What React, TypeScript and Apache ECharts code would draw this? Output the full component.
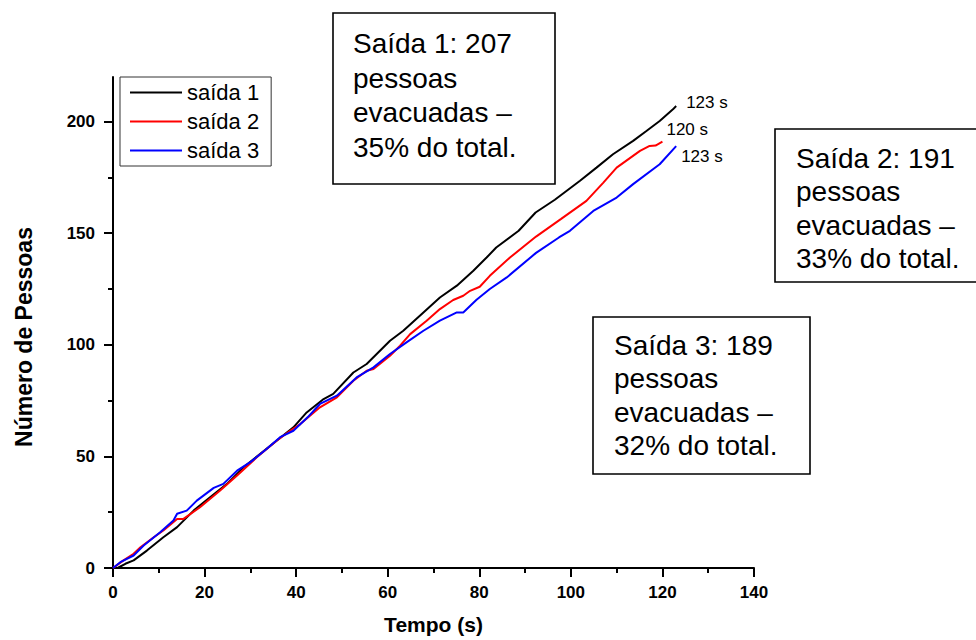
import React, { useEffect, useRef } from "react";
import * as echarts from "echarts";

// [tempo (s), número de pessoas]
const saida1: number[][] = [
  [0, 0], [1, 0], [2.7, 1.9], [4.5, 3.4], [7.4, 7.8], [11, 13.8], [14, 18.3], [17.6, 25.7],
  [21.2, 31.7], [24.9, 37.7], [28.5, 45.1], [32.1, 51.1], [35.8, 57.1], [39.4, 63], [42.3, 69.7],
  [46, 75.7], [48.1, 78], [52.5, 87.6], [55.4, 91.4], [60.5, 101.8], [63.4, 106.3], [67.8, 114.5],
  [71.4, 121.2], [75.1, 126.5], [78.7, 133.2], [81.6, 139.1], [83.7, 143.6], [88.6, 151.1],
  [92.3, 159.3], [96.5, 165], [102, 173.5], [105.6, 179.4], [109.2, 185.4], [113.6, 191.4],
  [116.5, 195.8], [119.4, 200.3], [122.3, 205.5], [123, 207],
];
const saida2: number[][] = [
  [0, 0], [2.3, 3.4], [4.5, 6.4], [6, 9.3], [8.9, 13.8], [11, 16.8], [14, 22], [15.4, 22],
  [19, 27.2], [23.4, 34.7], [27.1, 41.4], [31.4, 49.6], [35.8, 57.1], [38.7, 61.5], [40.9, 64.5],
  [45.2, 72], [48.9, 76.5], [52.5, 83.9], [55.4, 88.4], [56.9, 89.2], [60.5, 95.1], [62.7, 99.6],
  [64.9, 104.8], [68.5, 110.8], [71.4, 116], [74.3, 120.1], [76.5, 122], [78, 124.2], [80.1, 126],
  [82.3, 130.9], [86.7, 139.1], [92.4, 148.5], [97.8, 156.3], [103.4, 164.5], [107.1, 172.7],
  [110, 179.4], [115.1, 186.9], [117.2, 189.1], [118.5, 189.3], [120, 191],
];
const saida3: number[][] = [
  [0, 0], [1.6, 2.6], [4.5, 5.6], [6.7, 10.1], [10.3, 16], [13.2, 21.3], [14, 24.3], [16.1, 25.7],
  [18.3, 30.2], [22, 35.9], [24.1, 37.7], [27.1, 43.6], [30, 47.4], [33.6, 53.4], [36.5, 58.6],
  [39.4, 61.5], [42.5, 67.5], [45.2, 73.5], [48.9, 77.2], [53.2, 85.4], [56.9, 89.9], [60.5, 95.9],
  [64.1, 101.1], [67.8, 106.3], [71.4, 110.8], [75.1, 114.5], [76.5, 114.5], [79.4, 120.2],
  [82.3, 125], [86, 130.2], [92.4, 141.2], [97.4, 148.1], [99.8, 151.1], [104.9, 160], [110, 166],
  [113.6, 172], [119.4, 180.9], [123, 189],
];

const seriesNames = ["saída 1", "saída 2", "saída 3"];
const seriesColors = ["#000000", "#ff0000", "#0000ff"];
const endLabels = ["123 s", "120 s", "123 s"];
const yMajorTicks = [0, 50, 100, 150, 200];
const yMinorTicks = [25, 75, 125, 175];
const boxTexts = [
  "Saída 1: 207\npessoas\nevacuadas –\n35% do total.",
  "Saída 2: 191\npessoas\nevacuadas –\n33% do total.",
  "Saída 3: 189\npessoas\nevacuadas –\n32% do total.",
];

const FONT = "'Liberation Sans', Arial, Helvetica, sans-serif";

export default function App() {
  const ref = useRef<HTMLDivElement>(null);
  useEffect(() => {
    if (!ref.current) return;
    const chart = echarts.init(ref.current, undefined, { renderer: "svg" });
    const data = [saida1, saida2, saida3];
    const labelOffsets = [[10, -4], [4, -12], [5, 10]];
    const boxes = [
      { x: 333, y: 13, w: 222, h: 171, tx: 353, ty: 26, lh: 34.7 },
      { x: 775, y: 129, w: 215, h: 153, tx: 796, ty: 142, lh: 33.3 },
      { x: 593, y: 317, w: 217, h: 157, tx: 614, ty: 329, lh: 33.3 },
    ];
    const graphics: any[] = [];
    boxes.forEach((b, i) => {
      graphics.push({
        type: "rect",
        shape: { x: b.x, y: b.y, width: b.w, height: b.h },
        style: { fill: "#fff", stroke: "#000", lineWidth: 1.6 },
        z: 10,
      });
      graphics.push({
        type: "text",
        x: b.tx,
        y: b.ty,
        style: {
          text: boxTexts[i],
          font: `28px ${FONT}`,
          lineHeight: b.lh,
          fill: "#000",
          align: "left",
          verticalAlign: "top",
        },
        z: 11,
      });
    });
    graphics.push({
      type: "text",
      x: 24,
      y: 337,
      rotation: Math.PI / 2,
      style: {
        text: "Número de Pessoas",
        font: `bold 23px ${FONT}`,
        fill: "#000",
        align: "center",
        verticalAlign: "middle",
      },
    });

    chart.setOption({
      animation: false,
      backgroundColor: "#fff",
      textStyle: { fontFamily: FONT },
      grid: { left: 113, right: 222, top: 77, bottom: 72, containLabel: false },
      legend: {
        orient: "vertical",
        left: 120,
        top: 77,
        data: seriesNames,
        icon: "rect",
        itemWidth: 52,
        itemHeight: 2,
        itemGap: 4,
        padding: [3, 12, 3, 10],
        borderColor: "#333",
        borderWidth: 1,
        textStyle: { fontSize: 22, lineHeight: 25, color: "#000", fontFamily: FONT },
      },
      xAxis: {
        type: "value",
        min: 0,
        max: 140,
        interval: 20,
        name: "Tempo (s)",
        nameLocation: "middle",
        nameGap: 46,
        nameTextStyle: { fontSize: 21, fontWeight: "bold", color: "#000", fontFamily: FONT },
        axisLine: { show: true, onZero: false, lineStyle: { color: "#000", width: 2 } },
        axisTick: { show: true, length: 9, lineStyle: { color: "#000", width: 2 } },
        minorTick: { show: true, splitNumber: 2, length: 5, lineStyle: { color: "#000", width: 2 } },
        axisLabel: { fontSize: 17, fontWeight: "bold", color: "#000", margin: 16, fontFamily: FONT },
        splitLine: { show: false },
      },
      yAxis: [
        {
          type: "value",
          min: 0,
          max: 220,
          interval: 50,
          position: "left",
          axisLine: { show: true, onZero: false, lineStyle: { color: "#000", width: 2 } },
          axisTick: { show: true, length: 9, customValues: yMajorTicks, lineStyle: { color: "#000", width: 2 } },
          axisLabel: {
            customValues: yMajorTicks,
            fontSize: 17,
            fontWeight: "bold",
            color: "#000",
            margin: 18,
            fontFamily: FONT,
          },
          splitLine: { show: false },
        },
        {
          type: "value",
          min: 0,
          max: 220,
          interval: 50,
          position: "left",
          offset: 0,
          axisLine: { show: false },
          axisTick: { show: true, length: 5, customValues: yMinorTicks, lineStyle: { color: "#000", width: 2 } },
          axisLabel: { show: false },
          splitLine: { show: false },
        },
      ],
      series: data.map((d, i) => ({
        name: seriesNames[i],
        type: "line",
        data: d,
        yAxisIndex: 0,
        symbol: "none",
        showSymbol: false,
        lineStyle: { color: seriesColors[i], width: 2 },
        itemStyle: { color: seriesColors[i] },
        endLabel: {
          show: true,
          formatter: endLabels[i],
          fontSize: 17,
          color: "#000",
          fontFamily: FONT,
          distance: 0,
          offset: labelOffsets[i],
        },
        z: 2 + i,
      })),
      graphic: graphics,
    });
    return () => chart.dispose();
  }, []);
  return (
    <div
      ref={ref}
      style={{ position: "fixed", left: 0, top: 0, width: 976, height: 640, background: "#fff" }}
    />
  );
}
